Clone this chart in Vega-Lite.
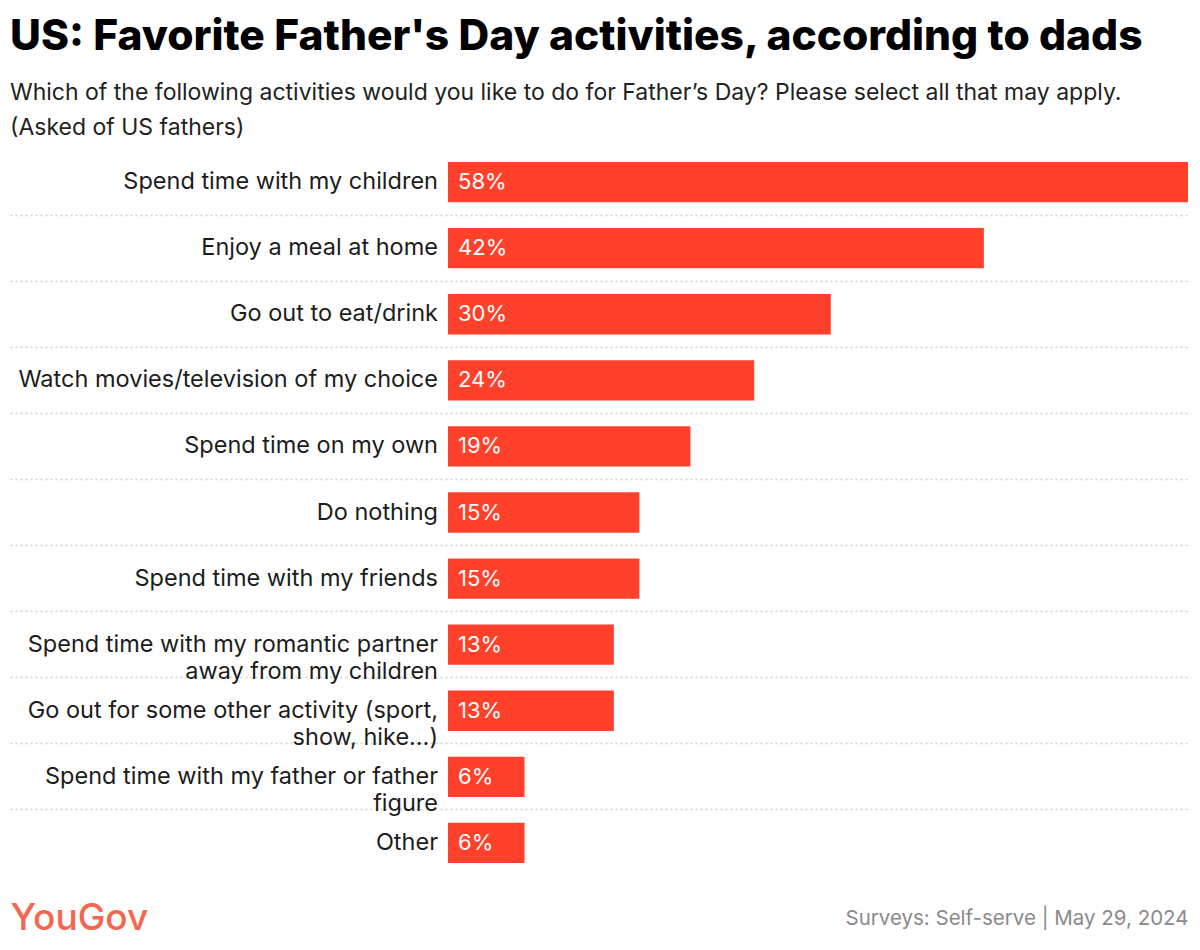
{
  "$schema": "https://vega.github.io/schema/vega-lite/v6.json",
  "autosize": {"type": "fit", "contains": "padding"},
  "width": 1200,
  "height": 950,
  "padding": {"left": 10, "right": 12, "top": 15, "bottom": 14},
  "background": "white",
  "title": {
    "text": "US: Favorite Father's Day activities, according to dads",
    "subtitle": ["Which of the following activities would you like to do for Father’s Day? Please select all that may apply.", "(Asked of US fathers)"],
    "anchor": "start",
    "font": "Inter",
    "fontSize": 42.5,
    "fontWeight": 800,
    "color": "#000000",
    "subtitleFont": "Inter",
    "subtitleFontSize": 23,
    "subtitleColor": "#222222",
    "subtitleLineHeight": 35,
    "subtitlePadding": 24,
    "offset": 9
  },
  "config": {
    "view": {"stroke": null},
    "text": {"lineBreak": "\n"}
  },
  "data": {
    "values": [
      {"activity": "Spend time with my children", "share": 0.58},
      {"activity": "Enjoy a meal at home", "share": 0.42},
      {"activity": "Go out to eat/drink", "share": 0.30},
      {"activity": "Watch movies/television of my choice", "share": 0.24},
      {"activity": "Spend time on my own", "share": 0.19},
      {"activity": "Do nothing", "share": 0.15},
      {"activity": "Spend time with my friends", "share": 0.15},
      {"activity": "Spend time with my romantic partner\naway from my children", "share": 0.13},
      {"activity": "Go out for some other activity (sport,\nshow, hike…)", "share": 0.13},
      {"activity": "Spend time with my father or father\nfigure", "share": 0.06},
      {"activity": "Other", "share": 0.06}
    ]
  },
  "encoding": {
    "y": {
      "field": "activity",
      "type": "nominal",
      "sort": null,
      "scale": {"paddingInner": 0, "paddingOuter": 0},
      "axis": {
        "title": null,
        "labels": false,
        "ticks": false,
        "domain": false,
        "grid": true,
        "bandPosition": 1,
        "gridDash": [2, 3],
        "gridColor": "#cfcfcf",
        "gridWidth": 1.5,
        "gridOpacity": {"condition": {"test": "datum.value === 'Other'", "value": 0}, "value": 1}
      }
    }
  },
  "layer": [
    {
      "mark": {"type": "bar", "color": "#ff412c", "height": {"band": 0.61}},
      "encoding": {
        "x": {
          "field": "share",
          "type": "quantitative",
          "scale": {"domain": [-0.3433, 0.58], "nice": false, "zero": false},
          "axis": {
            "title": null,
            "values": [-0.3433, 0.58],
            "grid": false,
            "domain": false,
            "ticks": false,
            "labelPadding": 42,
            "labelBound": false,
            "labelFlush": false,
            "labelOverlap": false,
            "labelLimit": 0,
            "labelExpr": "datum.value < 0 ? 'YouGov' : 'Surveys: Self-serve | May 29, 2024'",
            "labelAlign": {"condition": {"test": "datum.value < 0", "value": "left"}, "value": "right"},
            "labelColor": {"condition": {"test": "datum.value < 0", "value": "#f4664f"}, "value": "#8a8a8a"},
            "labelFontSize": {"condition": {"test": "datum.value < 0", "value": 37}, "value": 20.5},
            "labelFontWeight": {"condition": {"test": "datum.value < 0", "value": 500}, "value": 400},
            "labelFont": "Inter",
            "labelBaseline": "middle"
          }
        },
        "x2": {"datum": 0}
      }
    },
    {
      "mark": {"type": "text", "align": "left", "baseline": "middle", "dx": 10, "font": "Inter", "fontSize": 22, "color": "white"},
      "encoding": {
        "x": {"datum": 0, "type": "quantitative"},
        "text": {"field": "share", "type": "quantitative", "format": ".0%"}
      }
    },
    {
      "mark": {"type": "text", "align": "right", "baseline": "middle", "dx": -10, "font": "Inter", "fontSize": 23.5, "lineHeight": 27, "color": "#1c1c1c"},
      "encoding": {
        "x": {"datum": 0, "type": "quantitative"},
        "text": {"field": "activity", "type": "nominal"}
      }
    }
  ]
}
